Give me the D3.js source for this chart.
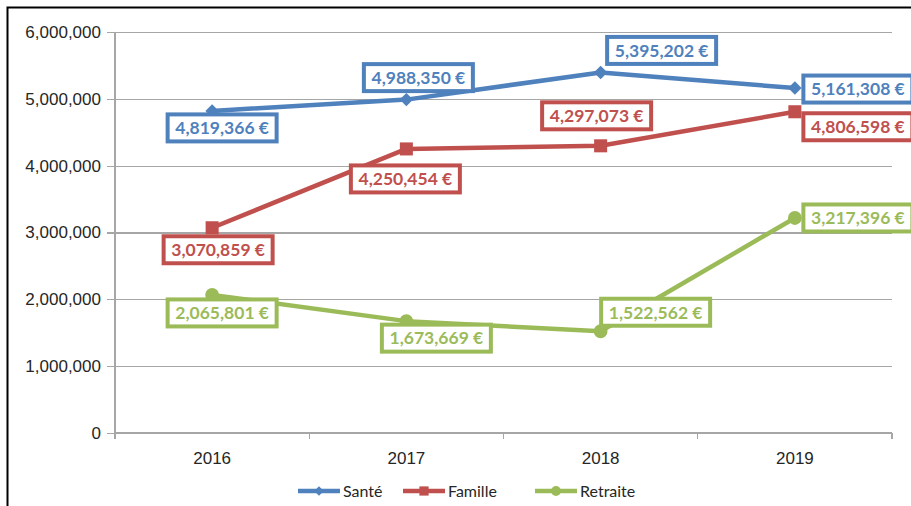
<!DOCTYPE html>
<html>
<head>
<meta charset="utf-8">
<script src="https://cdn.jsdelivr.net/npm/d3@7"></script>
<style>
  body { margin: 0; background: #fff; }
  svg { display: block; font-family: Lato, "Liberation Sans", sans-serif; }
</style>
</head>
<body>
<div class="canvas"></div>
<script>
// data
const years = ['2016', '2017', '2018', '2019'];
const sante = [4819366, 4988350, 5395202, 5161308];
const famille = [3070859, 4250454, 4297073, 4806598];
const retraite = [2065801, 1673669, 1522562, 3217396];
const yTicks = [0, 1000000, 2000000, 3000000, 4000000, 5000000, 6000000];

// where each data label box sits relative to its point
const santeLabelPos = [[10, 17], [12, -22], [61, -22], [63, 1]];
const familleLabelPos = [[6, 22], [-1, 30], [-4, -30], [63, 15]];
const retraiteLabelPos = [[10, 18], [30, 17], [55, -19], [63, 0]];

const series = [
  {name: 'Santé', values: sante, color: '#4f81bd', marker: 'diamond', labels: santeLabelPos},
  {name: 'Famille', values: famille, color: '#c0504d', marker: 'square', labels: familleLabelPos},
  {name: 'Retraite', values: retraite, color: '#9bbb59', marker: 'circle', labels: retraiteLabelPos}
];

const width = 911;
const height = 506;

const svg = d3.select('.canvas')
  .append('svg')
  .attr('width', width)
  .attr('height', height);

// outer frame (left and top edges visible)
svg.append('path')
  .attr('d', `M7.5,${height} V7.5 H${width}`)
  .attr('fill', 'none')
  .attr('stroke', '#000')
  .attr('stroke-width', 2);

const margin = {top: 32, right: 19, bottom: 73, left: 115};
const graphWidth = width - margin.left - margin.right;
const graphHeight = height - margin.top - margin.bottom;

const graph = svg.append('g')
  .attr('transform', `translate(${margin.left},${margin.top})`);

const x = d3.scaleBand()
  .domain(years)
  .range([0, graphWidth]);

const y = d3.scaleLinear()
  .domain([0, 6000000])
  .range([graphHeight, 0]);

// gridlines
graph.append('g')
  .selectAll('line')
  .data(yTicks.slice(1))
  .enter()
  .append('line')
    .attr('x1', 0)
    .attr('x2', graphWidth)
    .attr('y1', d => y(d) + 0.5)
    .attr('y2', d => y(d) + 0.5)
    .attr('stroke', '#a6a6a6')
    .attr('stroke-width', 1.3);

// y axis
const yAxisGroup = graph.append('g');
const yAxis = d3.axisLeft(y)
  .tickValues(yTicks)
  .tickSize(8)
  .tickPadding(6)
  .tickFormat(d3.format(','));
yAxisGroup.call(yAxis);
yAxisGroup.select('.domain').remove();
yAxisGroup.append('line')
  .attr('x1', 0).attr('x2', 0)
  .attr('y1', 0).attr('y2', graphHeight + 6);

// x axis
const xAxisGroup = graph.append('g')
  .attr('transform', `translate(0, ${graphHeight})`);
const xAxis = d3.axisBottom(x)
  .tickSize(0)
  .tickPadding(19);
xAxisGroup.call(xAxis);
xAxisGroup.select('.domain').remove();
xAxisGroup.append('line')
  .attr('x1', 0).attr('x2', graphWidth)
  .attr('y1', 0).attr('y2', 0);
xAxisGroup.selectAll('.sep')
  .data(years.concat(['end']))
  .enter()
  .append('line')
    .attr('class', 'sep')
    .attr('x1', (d, i) => i * x.bandwidth())
    .attr('x2', (d, i) => i * x.bandwidth())
    .attr('y1', 0)
    .attr('y2', 6);

graph.selectAll('line')
  .attr('shape-rendering', 'crispEdges');
[yAxisGroup, xAxisGroup].forEach(g => {
  g.selectAll('line').attr('stroke', '#a6a6a6').attr('stroke-width', 1.3);
  g.selectAll('text')
    .attr('font-size', '17px')
    .attr('fill', '#262626');
});

const px = (d, i) => x(years[i]) + x.bandwidth() / 2;

// lines
const line = d3.line()
  .x((d, i) => px(d, i))
  .y(d => y(d));

series.forEach(s => {
  graph.append('path')
    .datum(s.values)
    .attr('fill', 'none')
    .attr('stroke', s.color)
    .attr('stroke-width', 4.5)
    .attr('stroke-linejoin', 'round')
    .attr('d', line);
});

// markers (diamond = square turned 45deg)
const symbols = {diamond: d3.symbolSquare, square: d3.symbolSquare, circle: d3.symbolCircle};
const symbolSize = {diamond: 90, square: 170, circle: 150};
const symbolRot = {diamond: 45, square: 0, circle: 0};
series.forEach(s => {
  graph.append('g')
    .selectAll('path')
    .data(s.values)
    .enter()
    .append('path')
      .attr('d', d3.symbol(symbols[s.marker], symbolSize[s.marker]))
      .attr('transform', (d, i) => `translate(${px(d, i)},${y(d)}) rotate(${symbolRot[s.marker]})`)
      .attr('fill', s.color);
});

// data labels
const fmt = d => d3.format(',')(d) + ' €';
const boxW = 109;
const boxH = 27;
series.forEach(s => {
  const lbl = graph.append('g')
    .selectAll('g')
    .data(s.values)
    .enter()
    .append('g')
      .attr('transform', (d, i) => `translate(${px(d, i) + s.labels[i][0]},${y(d) + s.labels[i][1]})`);
  lbl.append('rect')
    .attr('x', -boxW / 2)
    .attr('y', -boxH / 2)
    .attr('width', boxW)
    .attr('height', boxH)
    .attr('fill', '#fff')
    .attr('stroke', s.color)
    .attr('stroke-width', 4);
  lbl.append('text')
    .attr('text-anchor', 'middle')
    .attr('dy', '0.36em')
    .attr('font-size', '17.5px')
    .attr('font-weight', 'bold')
    .attr('fill', s.color)
    .text(fmt);
});

// legend
const legend = svg.append('g')
  .attr('transform', 'translate(298, 491)');
const legendX = [0, 105, 237];
series.forEach((s, i) => {
  const g = legend.append('g')
    .attr('transform', `translate(${legendX[i]},0)`);
  g.append('line')
    .attr('x1', 0).attr('x2', 42)
    .attr('stroke', s.color)
    .attr('stroke-width', 4.5);
  g.append('path')
    .attr('d', d3.symbol(symbols[s.marker], symbolSize[s.marker] * 0.5))
    .attr('transform', `translate(21,0) rotate(${symbolRot[s.marker]})`)
    .attr('fill', s.color);
  g.append('text')
    .attr('x', 45)
    .attr('dy', '0.35em')
    .attr('font-size', '16px')
    .attr('fill', '#262626')
    .text(s.name);
});
</script>
</body>
</html>
